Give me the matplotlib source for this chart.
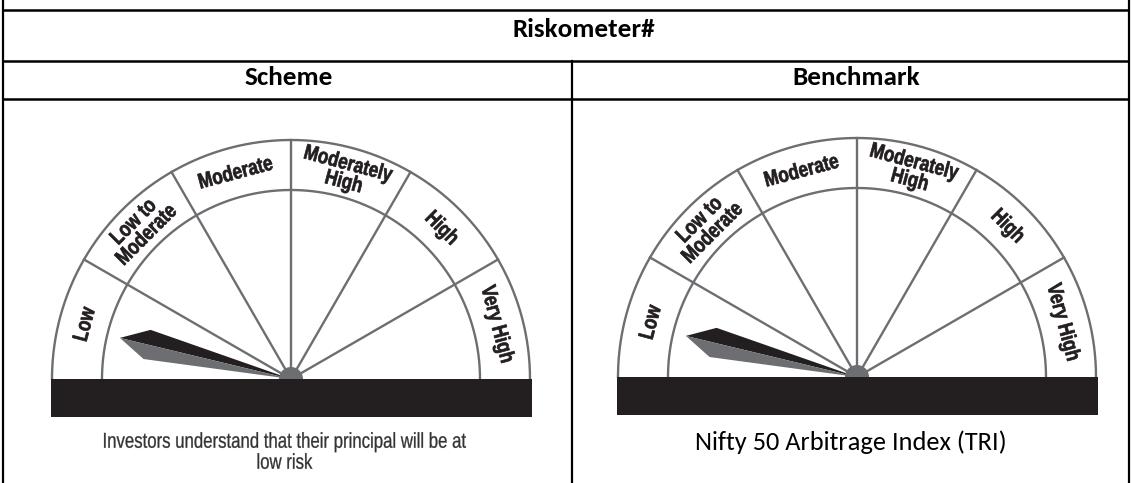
import numpy as np
import matplotlib
matplotlib.use("Agg")
import matplotlib.pyplot as plt
from matplotlib.patches import Polygon, Rectangle, PathPatch
from matplotlib.textpath import TextPath
from matplotlib.font_manager import FontProperties
from matplotlib.transforms import Affine2D

W, H = 1132, 483

header = "Riskometer#"
gauge_titles = ["Scheme", "Benchmark"]
levels = ["Low", "Low to\nModerate", "Moderate", "Moderately\nHigh", "High", "Very High"]
gauge_risk = ["Low", "Low"]
gauge_notes = ["Investors understand that their principal will be at\nlow risk",
               "Nifty 50 Arbitrage Index (TRI)"]

# layout (pixels)
centers = [(291, 379), (857, 377)]
r_out, r_in = 239, 189
line_c = "#6d6e71"
dark = "#231f20"
calibri = ["Carlito", "Lato", "DejaVu Sans"]

fig = plt.figure(figsize=(W / 100, H / 100), dpi=100)
ax = fig.add_axes([0, 0, 1, 1])
ax.set_xlim(0, W)
ax.set_ylim(H, 0)
ax.axis("off")


def narrow_text(x, y, s, size, sx, rot=0, weight="normal", color=dark, lsp=1.0,
                stroke=0.0, zorder=3):
    # condensed text: glyph outlines squeezed horizontally, block centred on (x, y)
    fp = FontProperties(family="Liberation Sans", weight=weight)
    lines = s.split("\n")
    nl = len(lines)
    for j, line in enumerate(lines):
        tp = TextPath((0, 0), line, size=size, prop=fp)
        bb = tp.get_extents()
        dy = -j * lsp * size + (nl - 1) * lsp * size / 2 - 0.36 * size
        tr = (Affine2D().translate(-(bb.x0 + bb.x1) / 2, dy).scale(sx, 1)
              .rotate_deg(rot).scale(1, -1).translate(x, y))
        ax.add_patch(PathPatch(tr.transform_path(tp), facecolor=color, edgecolor=color,
                               lw=stroke, zorder=zorder))


def pt(cx, cy, r, a):
    t = np.radians(a)
    return cx + r * np.cos(t), cy - r * np.sin(t)


def draw_gauge(cx, cy, risk):
    t = np.linspace(0, 180, 200)
    for r in (r_out, r_in):
        x, y = pt(cx, cy, r, t)
        ax.plot(x, y, color=line_c, lw=1.7, zorder=2)
    for a in range(30, 180, 30):
        x, y = pt(cx, cy, np.array([0, r_out]), a)
        ax.plot(x, y, color=line_c, lw=1.7, zorder=2)

    n = len(levels)
    step = 180 / n
    for i, lab in enumerate(levels):
        a = 180 - step * (i + 0.5)
        x, y = pt(cx, cy, (r_out + r_in) / 2 + 1, a)
        narrow_text(x, y, lab, 21.5, 0.80, rot=a - 90, weight="bold", lsp=0.86,
                    stroke=0.5)

    # needle
    k = levels.index(risk)
    a = 180 - step * (k + 0.45)
    u = np.array([np.cos(np.radians(a)), -np.sin(np.radians(a))])
    up = np.array([u[1], -u[0]])
    if up[1] > 0:
        up = -up
    base = np.array([cx, cy])
    tip = base + 176 * u
    c_up = base + 148 * u + 15 * up
    c_dn = base + 148 * u - 15 * up
    ax.add_patch(Polygon([base, tip, c_up], closed=True, color=dark, lw=0, zorder=4))
    ax.add_patch(Polygon([base, tip, c_dn], closed=True, color=line_c, lw=0, zorder=4))

    # hub
    x, y = pt(cx, cy, 12, t)
    ax.fill(x, y, color=line_c, lw=0, zorder=5)

    ax.add_patch(Rectangle((cx - 240, cy), 481, 38, color=dark, lw=0, zorder=6))


# table grid
for y in (10, 61, 99):
    ax.plot([3, 1129], [y, y], color="black", lw=1.8, solid_capstyle="butt")
for x in (3, 1129):
    ax.plot([x, x], [0, H], color="black", lw=1.6)
ax.plot([572, 572], [61, H], color="black", lw=1.6)

ax.text(584, 37, header, ha="center", va="baseline", fontsize=19.5,
        fontweight="bold", family=calibri, color="black")
title_x = [289, 856]
for tx, title in zip(title_x, gauge_titles):
    ax.text(tx, 85, title, ha="center", va="baseline", fontsize=19.5,
            fontweight="bold", family=calibri, color="black")

for (cx, cy), risk in zip(centers, gauge_risk):
    draw_gauge(cx, cy, risk)

note1, note2 = gauge_notes[0].split("\n")
narrow_text(285, 440, note1, 21.5, 0.78, color="#333333", stroke=0.2)
narrow_text(285, 461, note2, 21.5, 0.78, color="#333333", stroke=0.2)
ax.text(851, 450, gauge_notes[1], ha="center", va="baseline",
        fontsize=19, family=calibri, color="black")

fig.savefig("out.png", dpi=100)
